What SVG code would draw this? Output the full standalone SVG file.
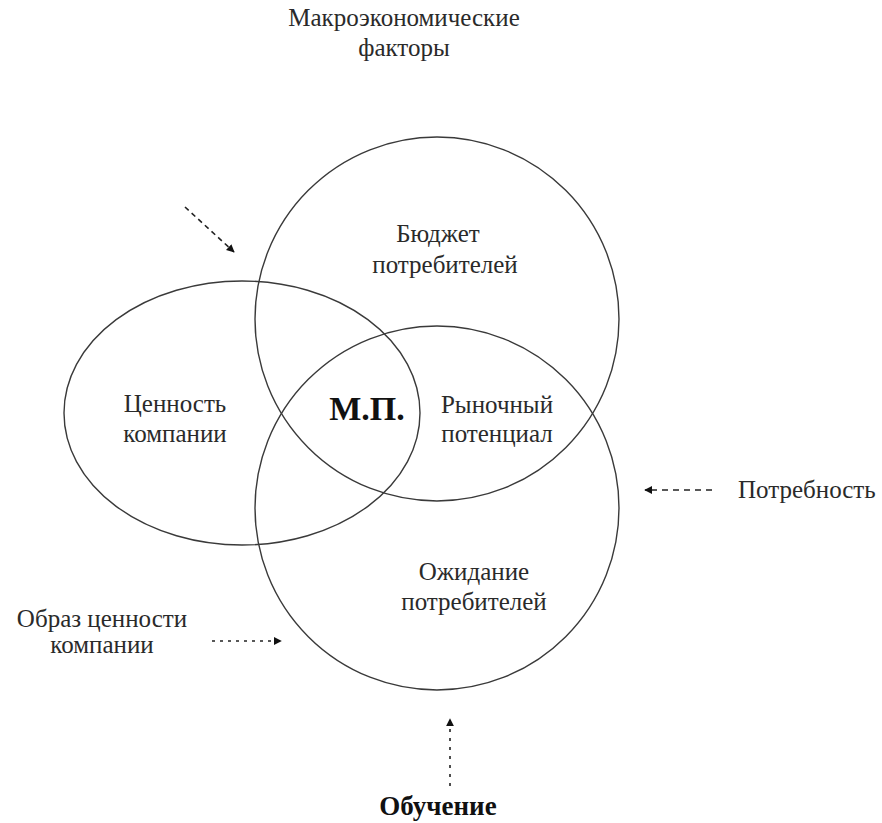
<svg xmlns="http://www.w3.org/2000/svg" width="882" height="823" viewBox="0 0 882 823">
  <style>
    .shape { fill: none; stroke: #3a3a3a; stroke-width: 1.4; }
    .t { font-family: "Liberation Serif", "Times New Roman", serif; font-size: 25px; fill: #2a2a2a; text-anchor: middle; }
    .b { font-weight: bold; fill: #111; }
    .conn { stroke: #222; stroke-width: 1.6; fill: none; }
  </style>
  <defs>
    <marker id="ah" viewBox="0 0 10 10" refX="9" refY="5" markerWidth="8" markerHeight="8" orient="auto" markerUnits="userSpaceOnUse">
      <path d="M0,0 L10,5 L0,10 z" fill="#111"/>
    </marker>
  </defs>
  <rect width="882" height="823" fill="#ffffff"/>

  <g id="node-budget">
    <circle class="shape" cx="437" cy="319" r="182"/>
    <text class="t" x="438" y="242">Бюджет</text>
    <text class="t" x="445" y="273">потребителей</text>
  </g>
  <g id="node-expectation">
    <circle class="shape" cx="437" cy="508" r="182"/>
    <text class="t" x="474" y="580">Ожидание</text>
    <text class="t" x="474" y="610">потребителей</text>
  </g>
  <g id="node-value">
    <ellipse class="shape" cx="242" cy="413" rx="178" ry="132"/>
    <text class="t" x="175" y="412">Ценность</text>
    <text class="t" x="175" y="442">компании</text>
  </g>
  <g id="node-mp">
    <text class="t b" x="367" y="420" style="font-size:34px">М.П.</text>
  </g>
  <g id="node-market">
    <text class="t" x="497" y="413">Рыночный</text>
    <text class="t" x="497" y="442">потенциал</text>
  </g>
  <g id="node-macro">
    <text class="t" x="404" y="26">Макроэкономические</text>
    <text class="t" x="404" y="56">факторы</text>
  </g>
  <g id="node-need">
    <text class="t" x="738" y="498" style="text-anchor:start">Потребность</text>
  </g>
  <g id="node-image">
    <text class="t" x="102" y="627">Образ ценности</text>
    <text class="t" x="102" y="653">компании</text>
  </g>
  <g id="node-learning">
    <text class="t b" x="438" y="815" style="font-size:27px">Обучение</text>
  </g>

  <g id="connectors">
    <line class="conn" x1="185" y1="207" x2="234" y2="252" stroke-dasharray="5,4" marker-end="url(#ah)"/>
    <line class="conn" x1="712" y1="490" x2="645" y2="490" stroke-dasharray="6,5" marker-end="url(#ah)"/>
    <line class="conn" x1="212" y1="641" x2="281" y2="641" stroke-dasharray="3,5" marker-end="url(#ah)"/>
    <line class="conn" x1="450" y1="786" x2="450" y2="719" stroke-dasharray="3,6" marker-end="url(#ah)"/>
  </g>
</svg>
